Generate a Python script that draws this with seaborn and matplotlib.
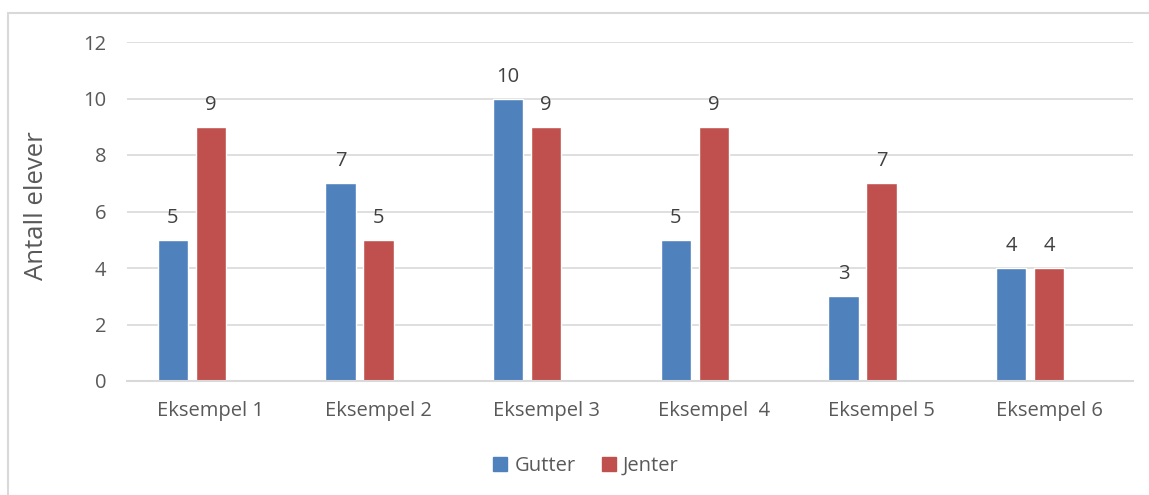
import matplotlib
matplotlib.use("Agg")
import matplotlib.pyplot as plt
import seaborn as sns
import pandas as pd
import numpy as np
from matplotlib.patches import Rectangle

categories = ["Eksempel 1", "Eksempel 2", "Eksempel 3", "Eksempel  4", "Eksempel 5", "Eksempel 6"]
gutter = [5, 7, 10, 5, 3, 4]
jenter = [9, 5, 9, 9, 7, 4]
series_names = ["Gutter", "Jenter"]
yticks = [0, 2, 4, 6, 8, 10, 12]

sns.set_theme(style="white")
plt.rcParams["font.family"] = ["Open Sans", "DejaVu Sans"]

BLUE = "#4F81BD"
RED = "#C0504D"
TXT = "#595959"
GRID = "#D9D9D9"

rows = []
for c, g, j in zip(categories, gutter, jenter):
    rows.append({"cat": c, "serie": "Gutter", "val": g})
    rows.append({"cat": c, "serie": "Jenter", "val": j})
    rows.append({"cat": c, "serie": " ", "val": np.nan})
df = pd.DataFrame(rows)

fig = plt.figure(figsize=(11.49, 4.95), dpi=100)
W, H = 1149, 495
ax = fig.add_axes([127 / W, (H - 381) / H, (1133 - 127) / W, (381 - 42) / H])

sns.barplot(data=df, x="cat", y="val", hue="serie", hue_order=["Gutter", "Jenter", " "],
            order=categories, palette={"Gutter": BLUE, "Jenter": RED, " ": "white"},
            width=0.68, gap=0.21, ax=ax, legend=False, errorbar=None, saturation=1)

for cont in ax.containers:
    ax.bar_label(cont, labels=[("" if np.isnan(v) else f"{int(v)}") for v in cont.datavalues],
                 padding=8.5, fontsize=14.5, color="#404040")

ax.set_ylim(0, 12)
ax.set_xlim(-0.5, len(categories) - 0.5)
ax.set_yticks(yticks)
ax.set_yticklabels([str(t) for t in yticks])
ax.yaxis.grid(True, color=GRID, linewidth=1.2)
ax.set_axisbelow(True)
for s in ["top", "right", "left"]:
    ax.spines[s].set_visible(False)
ax.spines["bottom"].set_color(GRID)
ax.spines["bottom"].set_linewidth(1.5)
ax.tick_params(axis="both", length=0, labelsize=14.5, labelcolor=TXT)
ax.tick_params(axis="x", pad=14.5)
ax.tick_params(axis="y", pad=15)
ax.set_xlabel("")
ax.set_ylabel("Antall elever", fontsize=18.5, color=TXT)
ax.yaxis.set_label_coords(-78 / (1133 - 127), (381 - 206) / (381 - 42))

handles = [Rectangle((0, 0), 1, 1, color=BLUE), Rectangle((0, 0), 1, 1, color=RED)]
fig.legend(handles, series_names, loc="center", bbox_to_anchor=(586 / W, (H - 466) / H),
           ncol=2, frameon=False, fontsize=14.5, handlelength=0.7, handleheight=0.7,
           handletextpad=0.35, columnspacing=1.3, labelcolor=TXT)

fig.patches.append(Rectangle((8 / W, -0.1), 1.2, (H - 13) / H + 0.1, transform=fig.transFigure,
                             fill=False, edgecolor=GRID, linewidth=1.5, zorder=-1))

fig.savefig("out.png", dpi=100, facecolor="white")
